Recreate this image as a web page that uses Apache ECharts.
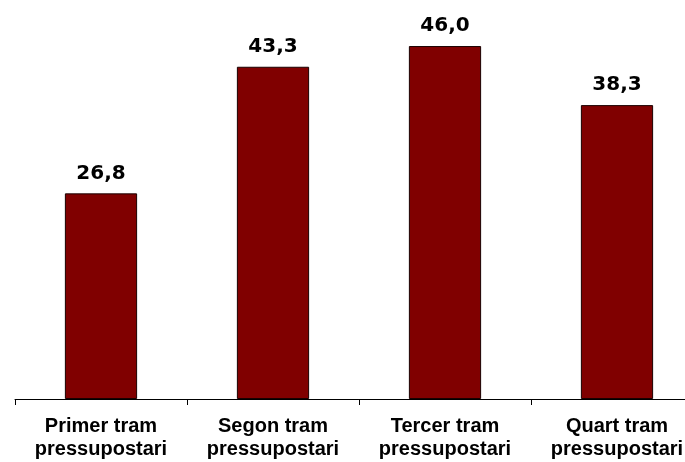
<!DOCTYPE html>
<html><head><meta charset="utf-8">
<script src="https://cdn.jsdelivr.net/npm/echarts@6/dist/echarts.min.js"></script>
<style>html,body{margin:0;padding:0;background:#fff;overflow:hidden;width:685px;height:462px}#c{width:703px;height:462px}</style>
</head><body><div id="c"></div>
<script>
const categories = ["Primer tram\npressupostari", "Segon tram\npressupostari", "Tercer tram\npressupostari", "Quart tram\npressupostari"];
const values = [26.8, 43.3, 46.0, 38.3];

const chart = echarts.init(document.getElementById('c'), null, {renderer: 'canvas'});
chart.setOption({
  animation: false,
  grid: {left: 15, right: 0, top: 0, bottom: 63, containLabel: false},
  xAxis: {
    type: 'category', data: categories,
    axisLine: {lineStyle: {color: '#000', width: 1}},
    axisTick: {show: true, length: 6, lineStyle: {color: '#000'}},
    axisLabel: {color: '#000', fontFamily: 'Liberation Sans, Arial', fontWeight: 'bold', fontSize: 20, lineHeight: 23, margin: 16, interval: 0}
  },
  yAxis: {type: 'value', min: 0, max: 52, show: false, splitLine: {show: false}},
  series: [{
    type: 'bar', data: values, barWidth: '42%',
    itemStyle: {color: '#800000', borderColor: '#1a0000', borderWidth: 1},
    label: {show: true, position: 'top', distance: 10, color: '#000', fontFamily: 'DejaVu Sans', fontWeight: 'bold', fontSize: 20,
      formatter: p => p.value.toFixed(1).replace('.', ',')}
  }]
});
</script></body></html>
